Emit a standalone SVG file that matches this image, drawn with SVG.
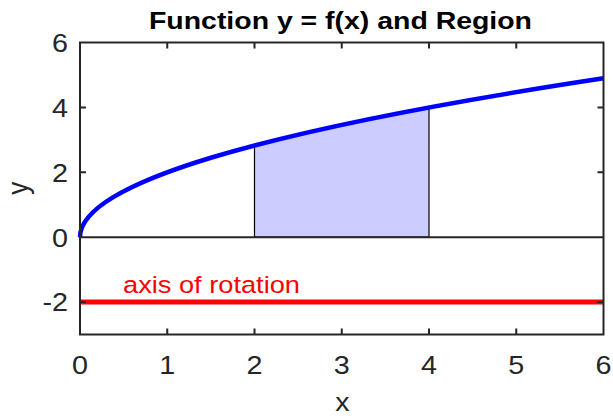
<svg xmlns="http://www.w3.org/2000/svg" width="613" height="418" viewBox="0 0 613 418">
<style>
.tk{font-family:"Liberation Sans",Arial,sans-serif;font-size:25px;fill:#262626}
.lb{font-family:"Liberation Sans",Arial,sans-serif;font-size:26px;fill:#262626;text-anchor:middle}
.yl{text-anchor:end}
.xl{text-anchor:middle}
.ax{stroke:#262626;stroke-width:2;fill:none}
</style>
<rect width="613" height="418" fill="#fff"/>
<g id="region">
<path d="M254.5,237.2 L254.5,145.45 Q326.78,126.45 429,107.44 L429,237.2 Z" fill="#ccccff" stroke="#000" stroke-width="1.2"/>
</g>
<g id="curve">
<path d="M80,237.2 Q80,157.74 603.5,78.28" fill="none" stroke="#0000ff" stroke-width="4.5"/>
</g>
<g id="rotation-axis">
<line x1="80" y1="302.1" x2="603.5" y2="302.1" stroke="#ff0000" stroke-width="5"/>
<text x="123" y="293" font-family="Liberation Sans,Arial,sans-serif" font-size="24.5" fill="#ff0000" textLength="177" lengthAdjust="spacingAndGlyphs">axis of rotation</text>
</g>
<g id="axes">
<line class="ax" x1="80" y1="237.2" x2="603.5" y2="237.2"/>
<rect class="ax" x="80" y="42.5" width="523.5" height="292"/>
<path class="ax" d="M167.25,334.5v-6M254.5,334.5v-6M341.75,334.5v-6M429,334.5v-6M516.25,334.5v-6M167.25,42.5v6M254.5,42.5v6M341.75,42.5v6M429,42.5v6M516.25,42.5v6M80,107.4h6M80,172.3h6M80,302.1h6M603.5,107.4h-6M603.5,172.3h-6M603.5,302.1h-6"/>
<text class="tk yl" transform="translate(68,51.8) scale(1.15,1)">6</text>
<text class="tk yl" transform="translate(68,116.7) scale(1.15,1)">4</text>
<text class="tk yl" transform="translate(68,181.6) scale(1.15,1)">2</text>
<text class="tk yl" transform="translate(68,246.5) scale(1.15,1)">0</text>
<text class="tk yl" transform="translate(68,311.4) scale(1.15,1)">-2</text>
<text class="tk xl" transform="translate(80,374) scale(1.15,1)">0</text>
<text class="tk xl" transform="translate(167.25,374) scale(1.15,1)">1</text>
<text class="tk xl" transform="translate(254.5,374) scale(1.15,1)">2</text>
<text class="tk xl" transform="translate(341.75,374) scale(1.15,1)">3</text>
<text class="tk xl" transform="translate(429,374) scale(1.15,1)">4</text>
<text class="tk xl" transform="translate(516.25,374) scale(1.15,1)">5</text>
<text class="tk xl" transform="translate(603.5,374) scale(1.15,1)">6</text>
<text class="lb" transform="translate(342.5,411) scale(1.1,1)">x</text>
<text class="lb" transform="translate(27.8,188.3) scale(1.15,1) rotate(-90)">y</text>
</g>
<g id="title">
<text x="149" y="29.3" font-family="Liberation Sans,Arial,sans-serif" font-size="24.6" font-weight="bold" fill="#000" textLength="383" lengthAdjust="spacingAndGlyphs">Function y = f(x) and Region</text>
</g>
</svg>
